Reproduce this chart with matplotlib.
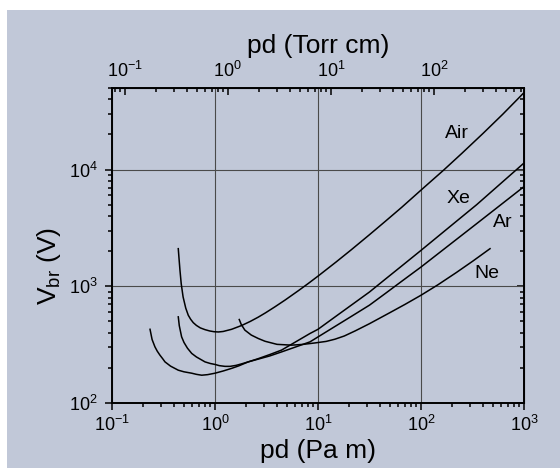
import numpy as np
import matplotlib.pyplot as plt
from matplotlib.patches import Rectangle
from matplotlib.ticker import NullFormatter

plt.rcParams['font.family'] = 'Liberation Sans'
plt.rcParams['mathtext.fontset'] = 'custom'
plt.rcParams['mathtext.rm'] = 'Liberation Sans'
plt.rcParams['mathtext.it'] = 'Liberation Sans:italic'
plt.rcParams['mathtext.default'] = 'regular'
plt.rcParams['axes.unicode_minus'] = False

# Paschen curves: pd in Pa m, breakdown voltage in V
pd_air = [0.44, 0.447, 0.457, 0.47, 0.49, 0.52, 0.55, 0.58, 0.615, 0.66, 0.72, 0.8, 0.89, 0.98, 1.08, 1.2,
          1.45, 1.82, 2.2, 2.63, 3.1, 3.83, 4.8, 6.44, 8.0, 10.1, 15, 21, 31.6, 45, 65, 101.6, 165, 250, 400, 620, 985]
v_air = [2100, 1750, 1370, 1050, 811, 650, 565, 522, 488, 462, 440, 425, 414, 408, 406, 410,
         428, 462, 500, 544, 593, 668, 763, 916, 1053, 1230, 1616, 2052, 2766, 3600, 4750, 6750, 9850, 13800, 20400, 29700, 45000]

pd_xe = [0.234, 0.245, 0.261, 0.275, 0.292, 0.31, 0.327, 0.37, 0.44, 0.5, 0.594, 0.66, 0.743, 0.85, 1.0, 1.2,
         1.45, 1.7, 2.1, 2.6, 3.4, 4.43, 6.0, 8.36, 10.0, 15, 21, 31.6, 45, 65, 100, 200, 347, 600, 980]
v_xe = [428, 350, 303, 278, 257, 240, 225, 207, 191, 185, 180, 176, 173, 175, 180, 188,
        198, 208, 225, 239, 260, 284, 332, 394, 428, 555, 688, 893, 1150, 1493, 2030, 3356, 5000, 7650, 11200]

pd_ar = [0.44, 0.45, 0.474, 0.5, 0.54, 0.594, 0.66, 0.8, 0.9, 1.0, 1.1, 1.25, 1.4, 1.6, 1.8, 2.1,
         2.6, 3.4, 4.43, 6.0, 8.36, 15, 21, 31.6, 45, 65, 100, 200, 347, 600, 985]
v_ar = [547, 460, 369, 330, 295, 266, 248, 225, 218, 214, 209, 206, 206, 210, 216, 225,
        237, 253, 274, 301, 334, 459, 551, 689, 867, 1104, 1462, 2355, 3440, 5020, 7070]

pd_ne = [1.72, 1.8, 1.95, 2.25, 2.63, 3.06, 4.0, 5.56, 7.2, 9.35, 12, 14.6, 18, 23, 31.6, 50, 70, 100, 146, 220, 320, 468]
v_ne = [519, 470, 421, 382, 357, 338, 318, 313, 318, 327, 337, 352, 375, 415, 478, 595, 700, 838, 1030, 1310, 1648, 2100]

bg = '#c1c8d8'

fig = plt.figure(figsize=(5.6, 4.68), dpi=100, facecolor='white')
fig.add_artist(Rectangle((7 / 560, 0), 1 - 7 / 560, 458 / 468, transform=fig.transFigure,
                         facecolor=bg, edgecolor='none', zorder=-1))

ax = fig.add_axes([0.2, 0.1389, 0.7357, 0.6731])
ax.set_facecolor(bg)
ax.set_xscale('log')
ax.set_yscale('log')
ax.set_xlim(0.1, 1000)
ax.set_ylim(100, 5e4)
ax.set_xticks([0.1, 1, 10, 100, 1000])
ax.set_yticks([100, 1000, 10000])

for x, y in [(pd_air, v_air), (pd_xe, v_xe), (pd_ar, v_ar), (pd_ne, v_ne)]:
  ax.plot(x, y, color='black', lw=1.1, zorder=3)

ax.grid(True, which='major', color='#4a4a4a', lw=0.8)

for s in ax.spines.values():
  s.set_linewidth(1.4)

ax.tick_params(which='both', direction='out', top=False, right=False, labelsize=13, width=1.1)
ax.tick_params(which='major', length=5)
ax.tick_params(which='minor', length=3)
ax.tick_params(axis='y', pad=5)

ax.set_xlabel('pd (Pa m)', fontsize=19)
ax.xaxis.set_label_coords(0.5, -0.115)
ax.set_ylabel('V$_\\mathregular{br}$ (V)', fontsize=19)
ax.yaxis.set_label_coords(-0.118, 0.435)

# top axis in Torr cm (1 Torr cm = 1.333 Pa m)
top = ax.secondary_xaxis('top', functions=(lambda x: x / 1.333, lambda x: x * 1.333))
top.set_xticks([0.1, 1, 10, 100])
top.tick_params(which='both', direction='in', labelsize=13, width=1.1, pad=5)
top.tick_params(which='major', length=5)
top.tick_params(which='minor', length=3)
top.set_xlabel('pd (Torr cm)', fontsize=19, labelpad=6)

right = ax.secondary_yaxis('right')
right.set_yticks([100, 1000, 10000])
right.tick_params(which='both', direction='in', width=1.1)
right.tick_params(which='major', length=5)
right.tick_params(which='minor', length=3)
right.yaxis.set_major_formatter(NullFormatter())
right.yaxis.set_minor_formatter(NullFormatter())

ax.text(222, 20200, 'Air', fontsize=14, ha='center', va='center')
ax.text(230, 5620, 'Xe', fontsize=14, ha='center', va='center')
ax.text(621, 3550, 'Ar', fontsize=14, ha='center', va='center')
ax.text(434, 1283, 'Ne', fontsize=14, ha='center', va='center')

fig.savefig('out.png', dpi=100, facecolor='white')
